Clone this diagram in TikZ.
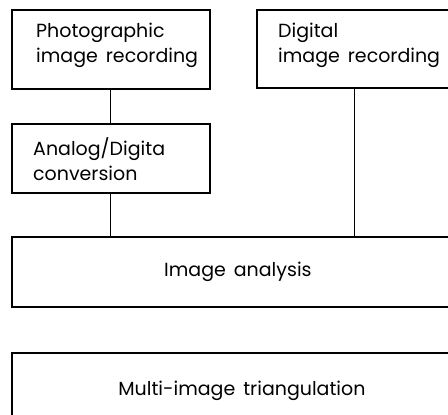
\documentclass[tikz,border=0pt]{standalone}
\usepackage{fontspec}
\setmainfont{Poppins}
\usetikzlibrary{positioning}
\newcommand\boxfont{\fontsize{19}{25}\selectfont\spaceskip=8pt\relax}
\tikzset{
  blok/.style={draw, line width=1.8pt, rectangle, inner sep=0pt, anchor=north west, font=\boxfont},
  lbl/.style={inner sep=0pt, align=left, anchor=north west, font=\boxfont},
  conn/.style={line width=0.9pt},
}
\begin{document}
\begin{tikzpicture}[x=1pt,y=-1pt]
  \useasboundingbox (0,0) rectangle (448,415);
  \clip (0,0) rectangle (448,415);
  % boxes
  \node[blok, minimum width=198pt, minimum height=79pt] (photo) at (11,9) {};
  \node[blok, minimum width=196pt, minimum height=78pt] (digital) at (256,9) {};
  \node[blok, minimum width=198pt, minimum height=69pt] (adconv) at (11,123) {};
  \node[blok, minimum width=452pt, minimum height=70pt] (analysis) at (11,236) {Image analysis};
  \node[blok, minimum width=460pt, minimum height=76pt] (triang) at (11,352) {Multi-image triangulation};
  % texts
  \node[lbl, below right=14pt and 25pt of photo.north west] (phototxt) {Photographic\\image recording};
  \node[lbl, below right=14pt and 22pt of digital.north west] (digitaltxt) {Digital\\image recording};
  \node[lbl, below right=14pt and 22pt of adconv.north west] (adconvtxt) {Analog/Digita\\conversion};
  % connections
  \draw[conn] (photo.south) -- (adconv.north);
  \draw[conn] (adconv.south) -- (adconv.south |- analysis.north);
  \draw[conn] (digital.south) -- (digital.south |- analysis.north);
\end{tikzpicture}
\end{document}
